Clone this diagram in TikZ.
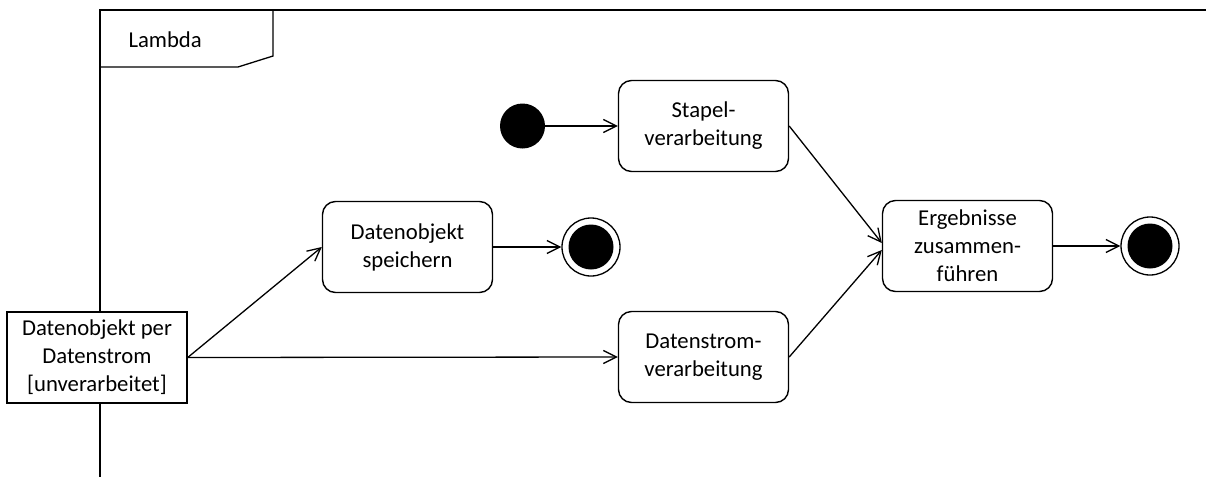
\documentclass[tikz,border=0pt]{standalone}
\usepackage{fontspec}
\setmainfont{Carlito}
\usetikzlibrary{arrows.meta}
\begin{document}
\begin{tikzpicture}[x=1pt,y=-1pt,
  every node/.style={font=\fontsize{22.7}{28}\selectfont},
  line/.style={draw=black, line width=1.3pt},
  flow/.style={line, -{Straight Barb[length=13pt,width=13pt,line width=1.3pt]}},
  action/.style={draw, line width=1.4pt, rounded corners=13pt,
    minimum width=170pt, minimum height=91pt, align=center,
    inner sep=0pt, fill=white},
  objbox/.style={draw, line width=1.4pt, minimum width=180pt,
    minimum height=91pt, align=center, inner sep=0pt, fill=white},
  startdot/.style={circle, fill=black, minimum size=45pt, inner sep=0pt},
  enddot/.style={circle, draw, line width=1.3pt, minimum size=58pt,
    inner sep=0pt, fill=white,
    path picture={\fill[black] (path picture bounding box.center) circle (22.5pt);}},
]
\useasboundingbox (0,0) rectangle (1206,477);

% activity frame with its name tab
\coordinate (ftl) at (100,10);
\coordinate (ftr) at (1206,10);
\coordinate (fbl) at (100,477);
\draw[line] (ftr) -- (ftl) -- (fbl);
\draw[line] (100,10) -- (273,10) -- (273,56) -- (238,67) -- (100,67);
\node[anchor=base west] (lam) at (125,47) {Lambda};

% nodes
\node[startdot] (init) at (522.5,126) {};
\node[action] (stapel) at (703.5,126) {Stapel-\\verarbeitung};
\node[action] (speich) at (407.5,247) {Datenobjekt\\speichern};
\node[enddot] (fin1) at (591,247) {};
\node[action] (erg) at (967.5,246) {Ergebnisse\\zusammen-\\führen};
\node[enddot] (fin2) at (1150,246) {};
\node[action] (strom) at (703.5,357) {Datenstrom-\\verarbeitung};
\node[objbox] (obj) at (97,357.5) {Datenobjekt per\\Datenstrom\\{[unverarbeitet]}};

% control flows
\draw[flow] (init) -- (stapel);
\draw[flow] (obj.east) -- (speich.west);
\draw[flow] (obj.east) -- (strom.west);
\draw[flow] (speich) -- (fin1);
\draw[flow] (stapel.east) -- ([yshift=3pt]erg.west);
\draw[flow] (strom.east) -- ([yshift=-4pt]erg.west);
\draw[flow] (erg) -- (fin2);
\end{tikzpicture}
\end{document}
